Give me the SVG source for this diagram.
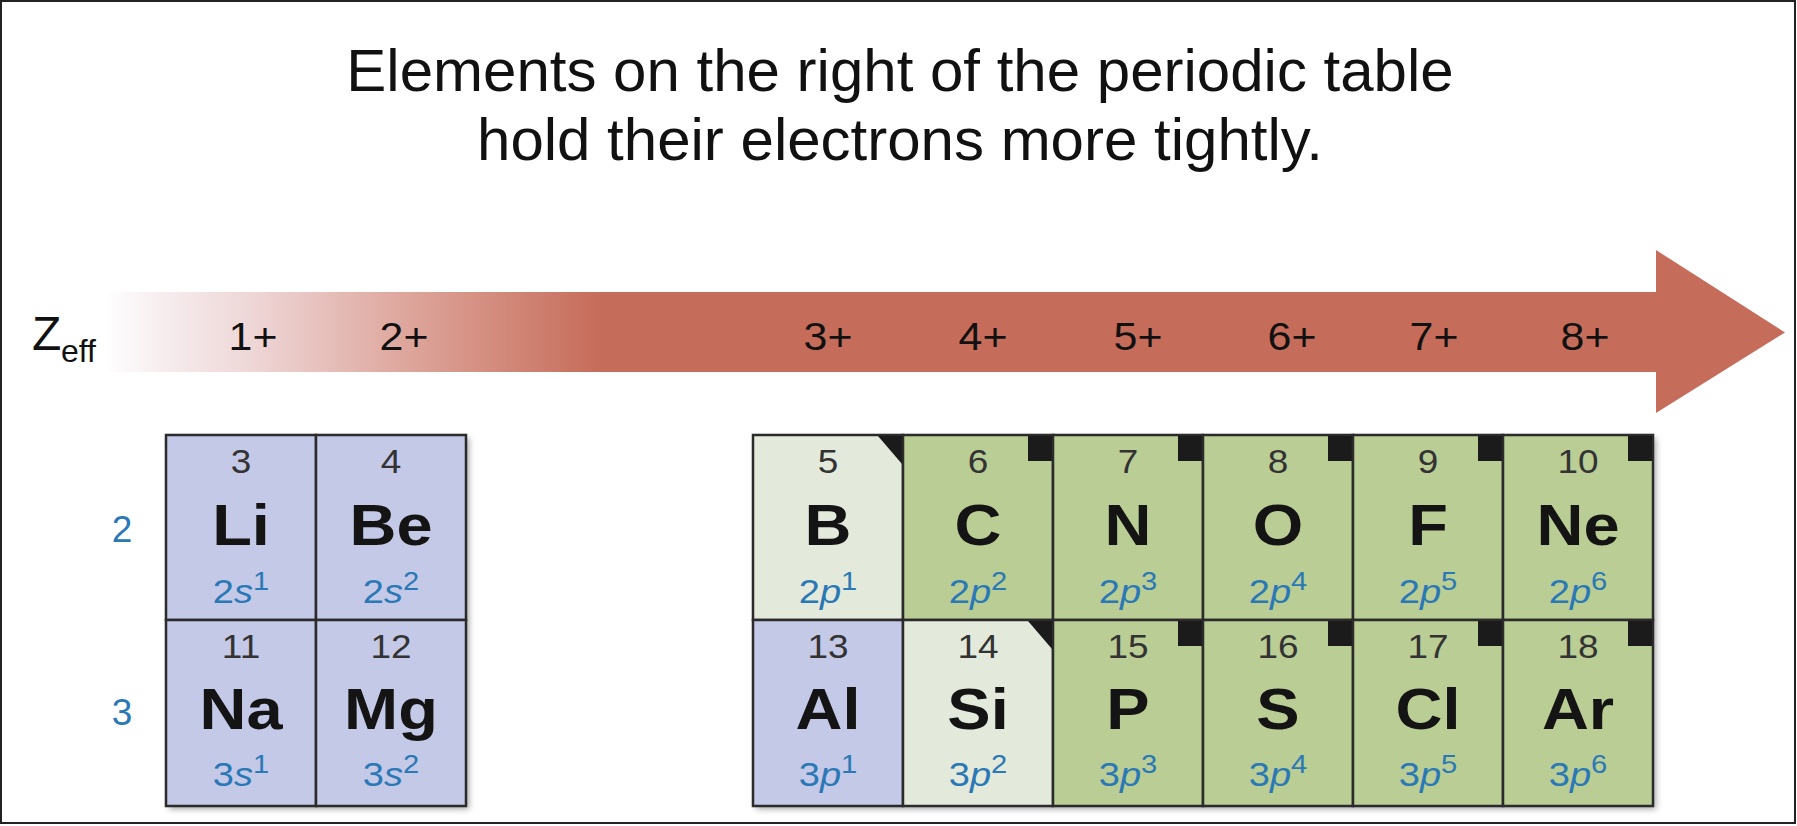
<svg xmlns="http://www.w3.org/2000/svg" width="1797" height="826" viewBox="0 0 1797 826">
<defs>
<linearGradient id="ag" gradientUnits="userSpaceOnUse" x1="105" y1="0" x2="600" y2="0">
<stop offset="0" stop-color="#ffffff"/>
<stop offset="0.12" stop-color="#f6ecee"/>
<stop offset="0.3" stop-color="#eed6d6"/>
<stop offset="0.6" stop-color="#dea79e"/>
<stop offset="0.85" stop-color="#cf8272"/>
<stop offset="1" stop-color="#c66c5a"/>
</linearGradient>
<filter id="sh" x="-5%" y="-5%" width="115%" height="115%">
<feDropShadow dx="3" dy="3" stdDeviation="3" flood-color="#000" flood-opacity="0.35"/>
</filter>
<style>
text{font-family:"Liberation Sans",Arial,sans-serif}
.title{font-size:60px;fill:#111;text-anchor:middle}
.z{font-size:39px;fill:#111;text-anchor:middle}
.row{font-size:37px;fill:#2a78b5;text-anchor:middle}
.cell{stroke:#2b2b2b;stroke-width:2.5}
.s{fill:#c4c9e7}
.p{fill:#b9cd95}
.l{fill:#e4eadb}
.num{font-size:33px;fill:#333;text-anchor:middle}
.sym{font-size:58px;font-weight:bold;fill:#141414;text-anchor:middle}
.cfg{font-size:34px;fill:#2a78b5;text-anchor:middle}
.it{font-style:italic}
.sup{font-size:26px}
.mk{fill:#1b1b1b}
</style>
</defs>
<rect x="1" y="1" width="1794" height="822" fill="#fff" stroke="#222" stroke-width="2"/>
<g id="title">
<text class="title" x="900" y="91">Elements on the right of the periodic table</text>
<text class="title" x="900" y="160">hold their electrons more tightly.</text>
</g>
<g id="arrow">
<path d="M105,292 H1656 V250 L1785,332.5 L1656,413 V372 H105 Z" fill="url(#ag)"/>
</g>
<g id="zeff-label">
<text x="32" y="350" font-size="48" fill="#111">Z</text>
<text x="61" y="362" font-size="32" fill="#111">eff</text>
</g>
<g id="zeff-values">
<text class="z" transform="translate(253,350) scale(1.1,1)">1+</text>
<text class="z" transform="translate(404,350) scale(1.1,1)">2+</text>
<text class="z" transform="translate(828,350) scale(1.1,1)">3+</text>
<text class="z" transform="translate(983,350) scale(1.1,1)">4+</text>
<text class="z" transform="translate(1138,350) scale(1.1,1)">5+</text>
<text class="z" transform="translate(1292,350) scale(1.1,1)">6+</text>
<text class="z" transform="translate(1434,350) scale(1.1,1)">7+</text>
<text class="z" transform="translate(1585,350) scale(1.1,1)">8+</text>
</g>
<g id="period-labels">
<text class="row" x="122" y="542">2</text>
<text class="row" x="122" y="725">3</text>
</g>
<g id="connectors"></g>
<rect x="166" y="435" width="300" height="371" fill="#c4c9e7" filter="url(#sh)"/>
<rect x="753" y="435" width="900" height="371" fill="#b9cd95" filter="url(#sh)"/>

<g id="Li" transform="translate(166,435)"><rect class="cell s" width="150" height="185"/>
<g transform="translate(75,0) scale(1.12,1)"><text class="num" y="38">3</text><text class="sym" y="110">Li</text><text class="cfg" y="168">2<tspan class="it">s</tspan><tspan class="sup" dy="-13">1</tspan></text></g></g>
<g id="Be" transform="translate(316,435)"><rect class="cell s" width="150" height="185"/>
<g transform="translate(75,0) scale(1.12,1)"><text class="num" y="38">4</text><text class="sym" y="110">Be</text><text class="cfg" y="168">2<tspan class="it">s</tspan><tspan class="sup" dy="-13">2</tspan></text></g></g>
<g id="Na" transform="translate(166,620)"><rect class="cell s" width="150" height="186"/>
<g transform="translate(75,0) scale(1.12,1)"><text class="num" y="38">11</text><text class="sym" y="109">Na</text><text class="cfg" y="166">3<tspan class="it">s</tspan><tspan class="sup" dy="-13">1</tspan></text></g></g>
<g id="Mg" transform="translate(316,620)"><rect class="cell s" width="150" height="186"/>
<g transform="translate(75,0) scale(1.12,1)"><text class="num" y="38">12</text><text class="sym" y="109">Mg</text><text class="cfg" y="166">3<tspan class="it">s</tspan><tspan class="sup" dy="-13">2</tspan></text></g></g>

<g id="B" transform="translate(753,435)"><rect class="cell l" width="150" height="185"/><path class="mk" d="M125,1 H149 V29 Z"/>
<g transform="translate(75,0) scale(1.12,1)"><text class="num" y="38">5</text><text class="sym" y="110">B</text><text class="cfg" y="168">2<tspan class="it">p</tspan><tspan class="sup" dy="-13">1</tspan></text></g></g>
<g id="C" transform="translate(903,435)"><rect class="cell p" width="150" height="185"/><rect class="mk" x="125" y="1" width="24" height="25"/>
<g transform="translate(75,0) scale(1.12,1)"><text class="num" y="38">6</text><text class="sym" y="110">C</text><text class="cfg" y="168">2<tspan class="it">p</tspan><tspan class="sup" dy="-13">2</tspan></text></g></g>
<g id="N" transform="translate(1053,435)"><rect class="cell p" width="150" height="185"/><rect class="mk" x="125" y="1" width="24" height="25"/>
<g transform="translate(75,0) scale(1.12,1)"><text class="num" y="38">7</text><text class="sym" y="110">N</text><text class="cfg" y="168">2<tspan class="it">p</tspan><tspan class="sup" dy="-13">3</tspan></text></g></g>
<g id="O" transform="translate(1203,435)"><rect class="cell p" width="150" height="185"/><rect class="mk" x="125" y="1" width="24" height="25"/>
<g transform="translate(75,0) scale(1.12,1)"><text class="num" y="38">8</text><text class="sym" y="110">O</text><text class="cfg" y="168">2<tspan class="it">p</tspan><tspan class="sup" dy="-13">4</tspan></text></g></g>
<g id="F" transform="translate(1353,435)"><rect class="cell p" width="150" height="185"/><rect class="mk" x="125" y="1" width="24" height="25"/>
<g transform="translate(75,0) scale(1.12,1)"><text class="num" y="38">9</text><text class="sym" y="110">F</text><text class="cfg" y="168">2<tspan class="it">p</tspan><tspan class="sup" dy="-13">5</tspan></text></g></g>
<g id="Ne" transform="translate(1503,435)"><rect class="cell p" width="150" height="185"/><rect class="mk" x="125" y="1" width="24" height="25"/>
<g transform="translate(75,0) scale(1.12,1)"><text class="num" y="38">10</text><text class="sym" y="110">Ne</text><text class="cfg" y="168">2<tspan class="it">p</tspan><tspan class="sup" dy="-13">6</tspan></text></g></g>

<g id="Al" transform="translate(753,620)"><rect class="cell s" width="150" height="186"/>
<g transform="translate(75,0) scale(1.12,1)"><text class="num" y="38">13</text><text class="sym" y="109">Al</text><text class="cfg" y="166">3<tspan class="it">p</tspan><tspan class="sup" dy="-13">1</tspan></text></g></g>
<g id="Si" transform="translate(903,620)"><rect class="cell l" width="150" height="186"/><path class="mk" d="M125,1 H149 V29 Z"/>
<g transform="translate(75,0) scale(1.12,1)"><text class="num" y="38">14</text><text class="sym" y="109">Si</text><text class="cfg" y="166">3<tspan class="it">p</tspan><tspan class="sup" dy="-13">2</tspan></text></g></g>
<g id="P" transform="translate(1053,620)"><rect class="cell p" width="150" height="186"/><rect class="mk" x="125" y="1" width="24" height="25"/>
<g transform="translate(75,0) scale(1.12,1)"><text class="num" y="38">15</text><text class="sym" y="109">P</text><text class="cfg" y="166">3<tspan class="it">p</tspan><tspan class="sup" dy="-13">3</tspan></text></g></g>
<g id="S" transform="translate(1203,620)"><rect class="cell p" width="150" height="186"/><rect class="mk" x="125" y="1" width="24" height="25"/>
<g transform="translate(75,0) scale(1.12,1)"><text class="num" y="38">16</text><text class="sym" y="109">S</text><text class="cfg" y="166">3<tspan class="it">p</tspan><tspan class="sup" dy="-13">4</tspan></text></g></g>
<g id="Cl" transform="translate(1353,620)"><rect class="cell p" width="150" height="186"/><rect class="mk" x="125" y="1" width="24" height="25"/>
<g transform="translate(75,0) scale(1.12,1)"><text class="num" y="38">17</text><text class="sym" y="109">Cl</text><text class="cfg" y="166">3<tspan class="it">p</tspan><tspan class="sup" dy="-13">5</tspan></text></g></g>
<g id="Ar" transform="translate(1503,620)"><rect class="cell p" width="150" height="186"/><rect class="mk" x="125" y="1" width="24" height="25"/>
<g transform="translate(75,0) scale(1.12,1)"><text class="num" y="38">18</text><text class="sym" y="109">Ar</text><text class="cfg" y="166">3<tspan class="it">p</tspan><tspan class="sup" dy="-13">6</tspan></text></g></g>
</svg>
